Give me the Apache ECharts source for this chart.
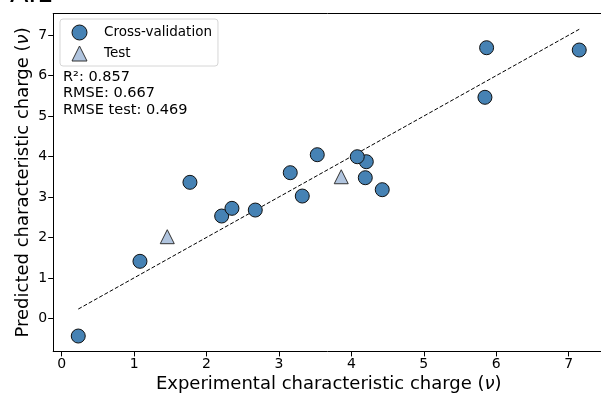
<!DOCTYPE html>
<html>
<head>
<meta charset="utf-8">
<script src="https://cdn.jsdelivr.net/npm/echarts@6/dist/echarts.min.js"></script>
<style>
html,body{margin:0;padding:0;background:#fff;}
#chart{width:601px;height:394px;}
</style>
</head>
<body>
<div id="chart"></div>
<script>
// ---- data ----
var cvX = [0.229, 1.081, 1.771, 2.209, 2.351, 2.673, 3.156, 3.322, 3.529, 4.206, 4.081, 4.192, 4.426, 5.867, 5.844, 7.146];
var cvY = [-0.438, 1.409, 3.362, 2.529, 2.719, 2.677, 3.600, 3.023, 4.045, 3.872, 3.995, 3.476, 3.180, 6.690, 5.464, 6.633];
var testX = [1.458, 3.860];
var testY = [2.018, 3.500];
var xTicks = [0, 1, 2, 3, 4, 5, 6, 7];
var yTicks = [0, 1, 2, 3, 4, 5, 6, 7];
var statLines = ['R²: 0.857', 'RMSE: 0.667', 'RMSE test: 0.469'];
var seriesNames = ['Cross-validation', 'Test'];
var titleText = 'A.1';
var xName = 'Experimental characteristic charge ({i|ν})';
var yName = 'Predicted characteristic charge ({i|ν})';

// ---- build ----
var FONT = 'DejaVu Sans';
function pairs(xs, ys) { return xs.map(function (x, i) { return [x, ys[i]]; }); }
var allX = cvX.concat(testX);
var lo = Math.min.apply(null, allX), hi = Math.max.apply(null, allX);
var identity = [[lo, lo], [hi, hi]];
var X_MIN = -0.117, X_MAX = 7.492, Y_MIN = -0.818, Y_MAX = 7.536;

var chart = echarts.init(document.getElementById('chart'), null, {renderer: 'canvas'});
var nameStyle = {fontFamily: FONT, fontSize: 18, color: '#000',
  rich: {i: {fontFamily: FONT, fontStyle: 'italic', fontSize: 18, color: '#000'}}};
var option = {
  animation: false,
  backgroundColor: '#fff',
  textStyle: {fontFamily: FONT},
  grid: {left: 53.2, top: 13.5, width: 551.1, height: 337.9, show: false, containLabel: false, outerBoundsMode: 'none'},
  xAxis: [{
    type: 'value', min: X_MIN, max: X_MAX, position: 'bottom',
    splitLine: {show: false},
    axisLine: {show: true, onZero: false, lineStyle: {color: '#000', width: 1}},
    name: xName, nameLocation: 'middle', nameGap: 24, nameMoveOverlap: false, nameTextStyle: nameStyle,
    axisTick: {show: true, length: 5, lineStyle: {color: '#000'}, customValues: xTicks},
    axisLabel: {fontFamily: FONT, fontSize: 14, color: '#000', margin: 6, customValues: xTicks}
  }, {
    type: 'value', min: X_MIN, max: X_MAX, position: 'top',
    splitLine: {show: false},
    axisLine: {show: true, onZero: false, lineStyle: {color: '#000', width: 1}},
    axisTick: {show: false}, axisLabel: {show: false}
  }],
  yAxis: {
    type: 'value', min: Y_MIN, max: Y_MAX,
    splitLine: {show: false},
    axisLine: {show: true, onZero: false, lineStyle: {color: '#000', width: 1}},
    name: yName, nameLocation: 'middle', nameGap: 21, nameMoveOverlap: false, nameTextStyle: nameStyle,
    axisTick: {show: true, length: 5, lineStyle: {color: '#000'}, customValues: yTicks},
    axisLabel: {fontFamily: FONT, fontSize: 14, color: '#000', margin: 6, customValues: yTicks}
  },
  legend: {
    data: seriesNames,
    orient: 'vertical', left: 60, top: 19,
    padding: [5.5, 6, 4.5, 11.5],
    itemWidth: 15, itemHeight: 15, itemGap: 5,
    itemStyle: {borderWidth: 1},
    backgroundColor: 'rgba(255,255,255,0.8)', borderColor: '#d6d6d6', borderWidth: 1, borderRadius: 3,
    textStyle: {fontFamily: FONT, fontSize: 13.5, color: '#000', padding: [0, 0, 0, 12]}
  },
  graphic: [
    {type: 'text', left: 10, top: -19, style: {text: titleText, font: '27px "DejaVu Sans"', fill: '#000'}},
    {type: 'text', left: 63, top: 68.5, style: {text: statLines.join('\n'), font: '14.5px "DejaVu Sans"', fill: '#000', lineHeight: 16.7}}
  ],
  series: [
    {type: 'line', data: identity, symbol: 'none', silent: true,
      lineStyle: {color: '#000', width: 1, type: [4, 2]}, z: 1},
    {name: seriesNames[0], type: 'scatter', data: pairs(cvX, cvY), symbol: 'circle', symbolSize: 14,
      itemStyle: {color: '#4682B4', borderColor: '#111', borderWidth: 1, opacity: 1}, z: 3},
    {name: seriesNames[1], type: 'scatter', data: pairs(testX, testY), symbol: 'triangle', symbolSize: 14,
      itemStyle: {color: '#B0C4DE', borderColor: '#333', borderWidth: 1, opacity: 1}, z: 3}
  ]
};
chart.setOption(option);
</script>
</body>
</html>
